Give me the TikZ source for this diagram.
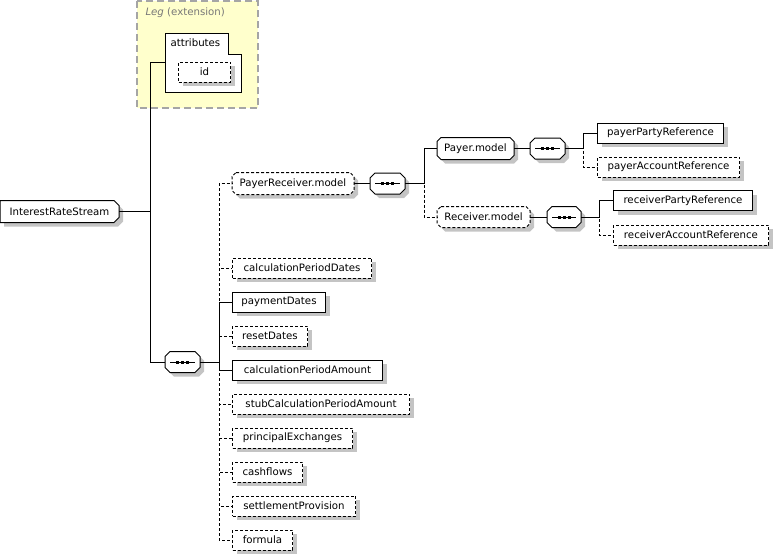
\documentclass[tikz,border=0pt]{standalone}
\usepackage{fontspec}
\setmainfont{DejaVu Sans}
\usetikzlibrary{backgrounds,positioning}
\definecolor{shd}{RGB}{196,196,196}
\definecolor{legfill}{RGB}{255,255,204}
\definecolor{legline}{RGB}{165,165,165}
\definecolor{leggray}{RGB}{120,120,120}
\tikzstyle{every node}=[font=\fontsize{10.2}{12}\selectfont]
\tikzstyle{every path}=[line width=1pt]
\tikzstyle{elem}=[draw,fill=white,anchor=west,minimum height=20pt,inner sep=0pt,preaction={fill=shd,draw=none,transform canvas={shift={(4pt,-4pt)}}}]
\tikzstyle{opt}=[dash pattern=on 3pt off 2pt]
\tikzstyle{grp}=[anchor=west,minimum height=20pt,inner sep=0pt]
\tikzstyle{comp}=[grp,minimum width=34pt]
% chamfered outline round a node: name, left chamfer, right chamfer
\newcommand{\octpath}[3]{([xshift=#2]#1.north west) -- ([xshift=-#3]#1.north east) -- ([yshift=-#3]#1.north east) -- ([yshift=#3]#1.south east) -- ([xshift=-#3]#1.south east) -- ([xshift=#2]#1.south west) -- ([yshift=#2]#1.south west) -- ([yshift=-#2]#1.north west) -- cycle}
\newcommand{\octa}[4]{%
  \fill[shd,transform canvas={shift={(4pt,-4pt)}}] \octpath{#1}{#2}{#3};
  \draw[fill=white,#4] \octpath{#1}{#2}{#3};}
\newcommand{\compo}[1]{%
  \octa{#1}{5pt}{5pt}{}
  \draw ([xshift=5pt]#1.west) -- ([xshift=-5pt]#1.east);
  \fill ([xshift=-6.5pt,yshift=-1.5pt]#1.center) rectangle ++(3pt,3pt);
  \fill ([xshift=-1.5pt,yshift=-1.5pt]#1.center) rectangle ++(3pt,3pt);
  \fill ([xshift=3.5pt,yshift=-1.5pt]#1.center) rectangle ++(3pt,3pt);}

\begin{document}
\begin{tikzpicture}[x=1pt,y=-1pt]
  \useasboundingbox (0,0) rectangle (774,557);
  % extension box
  \draw[legline,fill=legfill,line width=1.5pt,dash pattern=on 7pt off 4pt] (137,1) rectangle (258,108);
  \node[anchor=west,text=leggray,inner sep=0pt] (legtitle) at (145,13) {\textit{Leg} (extension)};
  \draw[fill=white] (165,33) -- (228,33) -- (228,54) -- (241,54) -- (241,92) -- (165,92) -- cycle;
  \node[anchor=west,inner sep=0pt] (attr) at (170,43) {attributes};
  \node[elem,opt,minimum width=52pt] (id) at (178,72) {id};
  \coordinate (attrin) at (165,62);
  \coordinate (trunk) at (150,62);

  \node[grp,minimum width=118pt,minimum height=21pt] (irs) at (0,211.5) {InterestRateStream};

  % main sequence
  \node[comp] (s0) at (165,362) {};
  \node[grp,minimum width=121pt,minimum height=21pt] (prm) at (232,183.5) {PayerReceiver.model};
  \node[elem,opt,minimum width=139pt] (cpd) at (232,268) {calculationPeriodDates};
  \node[elem,minimum width=93pt] (pd) at (232,302) {paymentDates};
  \node[elem,opt,minimum width=75pt] (rd) at (232,336) {resetDates};
  \node[elem,minimum width=150pt] (cpa) at (232,370) {calculationPeriodAmount};
  \node[elem,opt,minimum width=177pt] (scpa) at (232,404) {stubCalculationPeriodAmount};
  \node[elem,opt,minimum width=120pt] (pe) at (232,438) {principalExchanges};
  \node[elem,opt,minimum width=70pt] (cf) at (232,472) {cashflows};
  \node[elem,opt,minimum width=123pt] (sp) at (232,506) {settlementProvision};
  \node[elem,opt,minimum width=60pt] (fo) at (232,540) {formula};

  % payer / receiver
  \node[comp] (s1) at (370,183.5) {};
  \node[grp,minimum width=76pt,minimum height=21pt] (pm) at (437,148.5) {Payer.model};
  \node[grp,minimum width=92pt] (rm) at (437,217) {Receiver.model};
  \node[comp] (s2) at (530,148.5) {};
  \node[comp,minimum width=33pt] (s3) at (547,217) {};
  \node[elem,minimum width=126pt] (ppr) at (597,133) {payerPartyReference};
  \node[elem,opt,minimum width=142pt] (par) at (597,167) {payerAccountReference};
  \node[elem,minimum width=139pt] (rpr) at (613,200.5) {receiverPartyReference};
  \node[elem,opt,minimum width=155pt] (rar) at (613,235) {receiverAccountReference};

  \begin{scope}[on background layer]
    \octa{irs}{0pt}{5pt}{}
    \octa{prm}{4pt}{4pt}{opt}
    \octa{pm}{4pt}{4pt}{}
    \octa{rm}{4pt}{4pt}{opt}
    \compo{s0}
    \compo{s1}
    \compo{s2}
    \compo{s3}
  \end{scope}

  % connectors
  \draw (attrin) -- (trunk) |- (s0.west);
  \draw (irs.east) -- (irs.east -| trunk);
  \draw[opt] (s0.east) -- ++(19,0) |- (prm.west);
  \draw[opt] (s0.east) -- ++(19,0) |- (cpd.west);
  \draw[opt] (s0.east) -- ++(19,0) |- (rd.west);
  \draw[opt] (s0.east) -- ++(19,0) |- (scpa.west);
  \draw[opt] (s0.east) -- ++(19,0) |- (pe.west);
  \draw[opt] (s0.east) -- ++(19,0) |- (cf.west);
  \draw[opt] (s0.east) -- ++(19,0) |- (sp.west);
  \draw[opt] (s0.east) -- ++(19,0) |- (fo.west);
  \draw (s0.east) -- ++(19,0) |- (pd.west);
  \draw (s0.east) -- ++(19,0) |- (cpa.west);
  \draw (prm.east) -- (s1.west);
  \draw[opt] (s1.east) -- ++(19,0) |- (rm.west);
  \draw (s1.east) -- ++(19,0) |- (pm.west);
  \draw (pm.east) -- (s2.west);
  \draw[opt] (s2.east) -- ++(18,0) |- (par.west);
  \draw (s2.east) -- ++(18,0) |- (ppr.west);
  \draw (rm.east) -- (s3.west);
  \draw[opt] (s3.east) -- ++(18,0) |- (rar.west);
  \draw (s3.east) -- ++(18,0) |- (rpr.west);
\end{tikzpicture}
\end{document}
